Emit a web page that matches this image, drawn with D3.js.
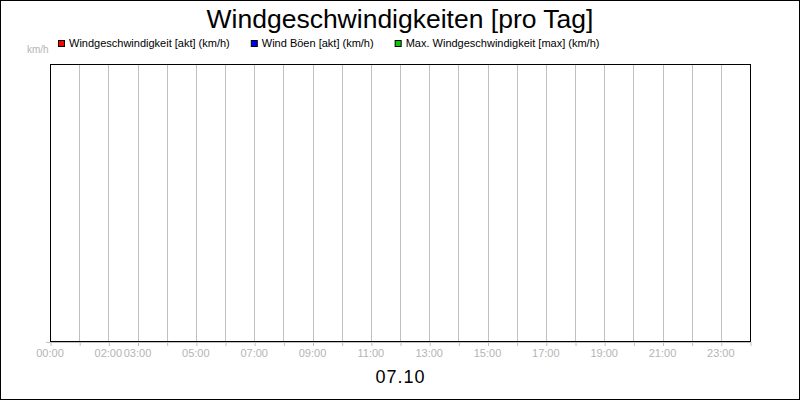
<!DOCTYPE html>
<html>
<head>
<meta charset="utf-8">
<script src="https://cdn.jsdelivr.net/npm/d3@7"></script>
<style>
  body { margin: 0; background: #fff; }
  svg { display: block; font-family: "Liberation Sans", Arial, sans-serif; }
</style>
</head>
<body>
<svg id="chart" width="800" height="400"></svg>
<script>
// chart data
var hours = d3.range(0, 25);
var tickLabelHours = [0, 2, 3, 5, 7, 9, 11, 13, 15, 17, 19, 21, 23];
var seriesNames = ['Windgeschwindigkeit [akt] (km/h)', 'Wind Böen [akt] (km/h)', 'Max. Windgeschwindigkeit [max] (km/h)'];
var seriesColors = ['#ff0000', '#0000ff', '#00cc00'];
// no readings for this day
var windAkt = [];
var boeenAkt = [];
var windMax = [];
var dayLabel = '07.10';
var title = 'Windgeschwindigkeiten [pro Tag]';
var unit = 'km/h';

var W = 800, H = 400;
var plot = { left: 50, right: 750, top: 64, bottom: 341 };
var gridColor = '#c0c0c0';
var labelColor = '#b4b4b4';

var svg = d3.select('#chart');

// outer border
svg.append('rect')
    .attr('x', 0.5).attr('y', 0.5)
    .attr('width', W - 1).attr('height', H - 1)
    .attr('fill', '#fff')
    .attr('stroke', '#000');

var x = d3.scaleLinear().domain([0, 24]).range([plot.left, plot.right]);
var y = d3.scaleLinear().domain([0, 1]).range([plot.bottom, plot.top]);

// title
svg.append('text')
    .attr('x', W / 2).attr('y', 28)
    .attr('text-anchor', 'middle')
    .attr('font-size', 26.5)
    .attr('fill', '#000')
    .text(title);

// unit label
svg.append('text')
    .attr('x', 27).attr('y', 53)
    .attr('font-size', 10)
    .attr('fill', labelColor)
    .text(unit);

// legend
var lx = 58;
seriesNames.forEach(function(name, i) {
    svg.append('rect')
        .attr('x', lx + 0.5).attr('y', 40.5)
        .attr('width', 6).attr('height', 6)
        .attr('fill', seriesColors[i])
        .attr('stroke', '#000');
    var t = svg.append('text')
        .attr('x', lx + 11).attr('y', 47)
        .attr('font-size', 11)
        .attr('fill', '#000')
        .text(name);
    lx = lx + 11 + t.node().getComputedTextLength() + 21;
});

// vertical grid
svg.append('g')
    .selectAll('line')
    .data(hours.slice(1, 24))
    .join('line')
        .attr('x1', function(d) { return Math.round(x(d)) + 0.5; })
        .attr('x2', function(d) { return Math.round(x(d)) + 0.5; })
        .attr('y1', plot.top)
        .attr('y2', plot.bottom)
        .attr('stroke', gridColor);

// gray x axis with ticks
var xAxis = svg.append('g')
    .attr('transform', 'translate(0,' + (plot.bottom + 1) + ')')
    .call(d3.axisBottom(x)
        .tickValues(hours)
        .tickSize(4)
        .tickSizeOuter(0)
        .tickFormat(''));
xAxis.select('.domain').attr('stroke', gridColor);
xAxis.selectAll('.tick line')
    .attr('stroke', gridColor)
    .attr('transform', function() { return 'translate(0.5,0)'; });

// y axis tick at zero
svg.append('line')
    .attr('x1', plot.left - 4).attr('x2', plot.left)
    .attr('y1', y(0) + 1.5).attr('y2', y(0) + 1.5)
    .attr('stroke', gridColor);

// hour labels
svg.append('g')
    .selectAll('text')
    .data(tickLabelHours)
    .join('text')
        .attr('x', function(d) { return x(d); })
        .attr('y', 357)
        .attr('text-anchor', 'middle')
        .attr('font-size', 11)
        .attr('fill', labelColor)
        .text(function(d) { return d3.format('02')(d) + ':00'; });

// series lines (empty for this day)
var line = d3.line()
    .x(function(d) { return x(d.hour); })
    .y(function(d) { return y(d.value); });
[windAkt, boeenAkt, windMax].forEach(function(s, i) {
    svg.append('path')
        .datum(s)
        .attr('d', line)
        .attr('fill', 'none')
        .attr('stroke', seriesColors[i]);
});

// plot frame
svg.append('rect')
    .attr('x', plot.left + 0.5).attr('y', plot.top + 0.5)
    .attr('width', plot.right - plot.left).attr('height', plot.bottom - plot.top)
    .attr('fill', 'none')
    .attr('stroke', '#000');

// day label
svg.append('text')
    .attr('x', W / 2 + 0.5).attr('y', 383)
    .attr('text-anchor', 'middle')
    .attr('font-size', 18)
    .attr('letter-spacing', 1)
    .attr('fill', '#000')
    .text(dayLabel);
</script>
</body>
</html>
